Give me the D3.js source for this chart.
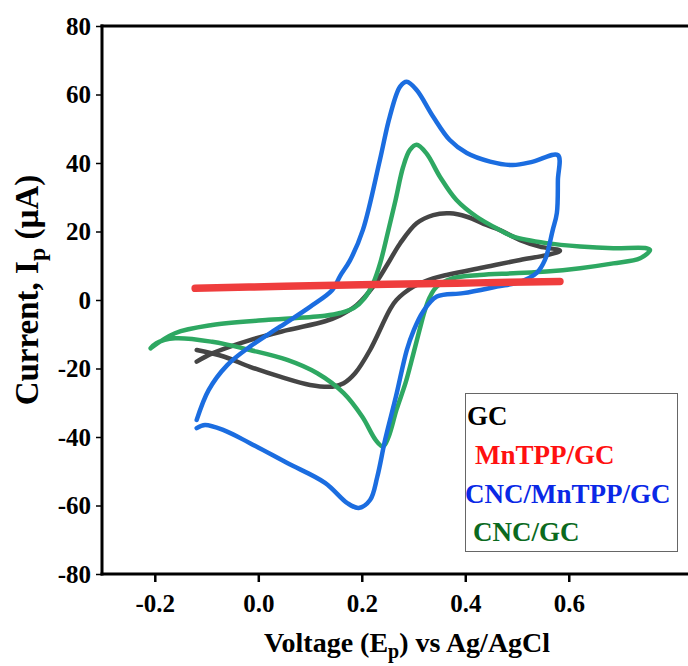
<!DOCTYPE html>
<html>
<head>
<meta charset="utf-8">
<script src="https://cdn.jsdelivr.net/npm/d3@7"></script>
<style>
  body { margin: 0; background: #fff; }
  svg { display: block; font-family: "Liberation Serif", "Times New Roman", serif; font-weight: bold; }
</style>
</head>
<body>
<svg id="chart" width="688" height="666"></svg>
<script>
// series data: voltage (V) and current (uA)
const gcV = [-0.119, -0.089, -0.016, 0.056, 0.129, 0.158, 0.190, 0.222, 0.250, 0.274, 0.306, 0.338, 0.370, 0.403, 0.441, 0.467, 0.506, 0.544, 0.583,
             0.557, 0.506, 0.441, 0.364, 0.338, 0.300, 0.267, 0.254, 0.216, 0.187, 0.165, 0.143, 0.100, 0.042, -0.016, -0.067, -0.119];
const gcI = [-18.0, -15.6, -11.7, -8.8, -6.2, -4.5, -1.5, 3.9, 10.5, 16.5, 22.4, 24.8, 25.3, 24.3, 21.9, 20.4, 17.5, 15.6, 14.4,
             13.1, 11.7, 9.7, 7.3, 6.3, 3.9, 0.0, -2.9, -14.6, -21.4, -24.3, -25.3, -24.8, -22.4, -19.5, -16.5, -14.6];

const mnV = [-0.122, 0.05, 0.25, 0.42, 0.583];
const mnI = [3.4, 4.0, 4.6, 5.0, 5.4];

const cncMnV = [-0.119, -0.096, -0.060, -0.016, 0.042, 0.100, 0.143, 0.158, 0.177, 0.202, 0.235, 0.254, 0.274, 0.287, 0.306, 0.338, 0.370, 0.403, 0.448, 0.492, 0.531, 0.579,
                0.579, 0.577, 0.569, 0.554, 0.538, 0.506, 0.461, 0.396, 0.345, 0.318, 0.300, 0.287, 0.266, 0.245, 0.230, 0.216, 0.194, 0.172, 0.129, 0.056, -0.016, -0.067, -0.103, -0.119];
const cncMnI = [-35.0, -26.3, -19.0, -13.6, -7.8, -2.0, 2.9, 7.0, 11.5, 20.4, 40.9, 53.5, 62.3, 63.7, 61.3, 53.5, 46.7, 42.9, 40.4, 39.4, 40.4, 42.3,
                35.0, 25.4, 20.4, 11.7, 7.9, 5.3, 3.9, 2.0, 1.0, -3.5, -9.0, -14.6, -28.2, -40.9, -51.6, -58.4, -60.7, -59.3, -53.4, -47.6, -41.8, -38.0, -36.5, -37.4];

const cncV = [-0.208, -0.161, -0.089, 0.020, 0.129, 0.158, 0.185, 0.205, 0.222, 0.236, 0.250, 0.265, 0.280, 0.293, 0.306, 0.325, 0.351, 0.383, 0.422, 0.467, 0.493, 0.557, 0.622, 0.686, 0.750, 0.757,
              0.738, 0.686, 0.622, 0.557, 0.493, 0.428, 0.375, 0.345, 0.332, 0.322, 0.312, 0.300, 0.285, 0.267, 0.252, 0.241, 0.227, 0.201, 0.165, 0.114, 0.056, -0.016, -0.089, -0.161, -0.197, -0.208];
const cncI = [-14.1, -9.7, -7.3, -5.8, -4.6, -3.8, -2.3, 0.5, 4.9, 11.0, 19.5, 29.0, 38.9, 43.8, 45.3, 42.8, 36.0, 29.2, 24.3, 20.4, 18.5, 16.6, 15.6, 15.1, 15.1, 14.6,
              12.2, 10.7, 9.3, 8.3, 7.8, 7.3, 6.3, 3.9, 1.0, -3.0, -8.5, -15.5, -24.0, -32.1, -39.9, -42.8, -40.9, -34.1, -27.2, -21.4, -17.5, -14.6, -12.2, -11.2, -12.6, -14.1];

const xTicks = [-0.2, 0.0, 0.2, 0.4, 0.6];
const yTicks = [-80, -60, -40, -20, 0, 20, 40, 60, 80];
const legendNames = ["GC", "MnTPP/GC", "CNC/MnTPP/GC", "CNC/GC"];
const legendColors = ["#000000", "#ff1010", "#0a28e6", "#0b6a1e"];

const svg = d3.select('#chart');
const plotLeft = 102, plotTop = 26, plotBottom = 574;

// x axis runs past the right edge of the picture (cropped)
const xScale = d3.scaleLinear().domain([-0.3, 0.9]).range([103.05, 724]);
const yScale = d3.scaleLinear().domain([-80, 80]).range([plotBottom, plotTop]);

const line = d3.line()
    .x(d => xScale(d[0]))
    .y(d => yScale(d[1]))
    .curve(d3.curveCatmullRom.alpha(0.5));

function pairs(v, c) { return v.map((x, i) => [x, c[i]]); }

const series = [
  { pts: pairs(gcV, gcI), color: '#454545', w: 4.5 },
  { pts: pairs(cncV, cncI), color: '#2ea862', w: 4.5 },
  { pts: pairs(cncMnV, cncMnI), color: '#1b6de0', w: 4.5 },
  { pts: pairs(mnV, mnI), color: '#ef3d3d', w: 7.5 }
];

series.forEach(s => {
  svg.append('path')
    .attr('d', line(s.pts))
    .attr('fill', 'none')
    .attr('stroke', s.color)
    .attr('stroke-width', s.w)
    .attr('stroke-linecap', 'round')
    .attr('stroke-linejoin', 'round');
});

// axes
const yAxis = d3.axisLeft(yScale).tickValues(yTicks).tickSize(6).tickFormat(d => String(d));
const gy = svg.append('g').attr('transform', `translate(${plotLeft},0)`).call(yAxis);
gy.select('.domain').remove();
gy.selectAll('.tick line').attr('stroke', '#000').attr('stroke-width', 1.5);
gy.selectAll('.tick text').attr('font-size', 25).attr('font-family', 'Liberation Serif').attr('font-weight', 'bold').attr('fill', '#000').attr('x', -11);

const xAxis = d3.axisBottom(xScale).tickValues(xTicks).tickSize(8).tickFormat(d => d.toFixed(1));
const gx = svg.append('g').attr('transform', `translate(0,${plotBottom})`).call(xAxis);
gx.select('.domain').remove();
gx.selectAll('.tick line').attr('stroke', '#000').attr('stroke-width', 2.5);
gx.selectAll('.tick text').attr('font-size', 25).attr('font-family', 'Liberation Serif').attr('font-weight', 'bold').attr('fill', '#000').attr('y', 20);

// frame lines: left, bottom, top
svg.append('line').attr('x1', plotLeft).attr('x2', plotLeft).attr('y1', plotTop - 1.5).attr('y2', plotBottom + 1.5).attr('stroke', '#000').attr('stroke-width', 3);
svg.append('line').attr('x1', plotLeft - 1.5).attr('x2', 688).attr('y1', plotBottom).attr('y2', plotBottom).attr('stroke', '#000').attr('stroke-width', 3);
svg.append('line').attr('x1', plotLeft - 1.5).attr('x2', 688).attr('y1', plotTop).attr('y2', plotTop).attr('stroke', '#000').attr('stroke-width', 3);

// axis titles
const xt = svg.append('text').attr('x', 407).attr('y', 652).attr('text-anchor', 'middle').attr('font-size', 28);
xt.append('tspan').text('Voltage (E');
xt.append('tspan').attr('font-size', 20).attr('dy', 6).text('p');
xt.append('tspan').attr('dy', -6).text(') vs Ag/AgCl');

const yt = svg.append('text').attr('transform', 'translate(38,290) rotate(-90)').attr('text-anchor', 'middle').attr('font-size', 33);
yt.append('tspan').text('Current, I');
yt.append('tspan').attr('font-size', 24).attr('dy', 7).text('p');
yt.append('tspan').attr('dy', -7).text(' (\u00b5A)');

// legend
svg.append('rect').attr('x', 465.5).attr('y', 393.5).attr('width', 212).attr('height', 158)
  .attr('fill', '#fff').attr('stroke', '#666').attr('stroke-width', 1);
const legX = [467, 475, 465, 473];
const legY = [425, 464, 503, 541];
legendNames.forEach((n, i) => {
  svg.append('text').attr('x', legX[i]).attr('y', legY[i]).attr('font-size', 27)
    .attr('fill', legendColors[i]).text(n);
});
</script>
</body>
</html>
